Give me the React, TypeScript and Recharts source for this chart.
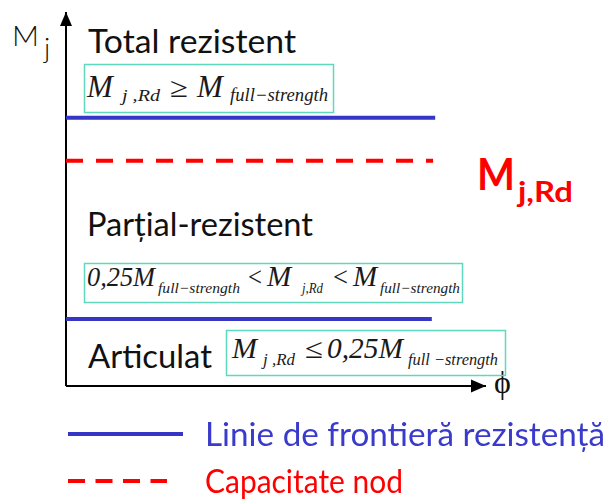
import React from 'react';
import { ComposedChart, Line, XAxis, YAxis, ReferenceDot, ReferenceLine, Legend, Customized } from 'recharts';

// Boundary values (axes 0..100)
const boundTopX = [0, 87.9];
const boundTopY = [71.7, 71.7];
const boundLowX = [0, 87.1];
const boundLowY = [17.9, 17.9];
const capX = [0, 87.4];
const capY = [60.2, 60.2];

const legendNames = ['Linie de frontieră rezistență', 'Capacitate nod'];
const zoneLabels = ['Total rezistent', 'Parțial-rezistent', 'Articulat'];

const toPts = (xs: number[], ys: number[]) => xs.map((x, i) => ({ x, y: ys[i] }));
const topData = toPts(boundTopX, boundTopY);
const lowData = toPts(boundLowX, boundLowY);
const capData = toPts(capX, capY);

const BLUE = '#3535c6';
const RED = '#ff0000';
const TEAL = '#5fd9bd';
const SANS = 'Lato, "Open Sans", sans-serif';
const SERIF = '"Liberation Serif", "DejaVu Serif", serif';

const MP = ({ x, y, size, w, italic = true, children }: any) => (
  <text x={x} y={y} fontSize={size} fontFamily={SERIF} fontStyle={italic ? 'italic' : 'normal'} fill="#1a1a1a"
    textLength={w} lengthAdjust={w ? 'spacingAndGlyphs' : undefined}>{children}</text>
);

const Annotations = () => (
  <g>
    {/* axis titles */}
    <text x={12} y={46} fontSize={27} fontFamily={SANS} fontWeight={300} fill="#111" textLength={27} lengthAdjust="spacingAndGlyphs">M</text>
    <text x={44} y={58} fontSize={28} fontFamily={SANS} fontWeight={300} fill="#111">j</text>
    <text x={494} y={393} fontSize={32} fontFamily={SERIF} fill="#111">ϕ</text>

    {/* zone labels */}
    <text x={88} y={53} fontSize={33} fontFamily={SANS} fill="#111" textLength={208} lengthAdjust="spacingAndGlyphs">{zoneLabels[0]}</text>
    <text x={87} y={236} fontSize={33} fontFamily={SANS} fill="#111" textLength={226} lengthAdjust="spacingAndGlyphs">{zoneLabels[1]}</text>
    <text x={88} y={368} fontSize={33} fontFamily={SANS} fill="#111" textLength={124} lengthAdjust="spacingAndGlyphs">{zoneLabels[2]}</text>

    {/* red capacity label */}
    <text x={477} y={190} fontSize={43} fontWeight="bold" fontFamily={SANS} fill={RED} textLength={38} lengthAdjust="spacingAndGlyphs">M</text>
    <text x={518} y={202} fontSize={28} fontWeight="bold" fontFamily={SANS} fill={RED} textLength={55} lengthAdjust="spacingAndGlyphs">j,Rd</text>

    {/* box 1 */}
    <rect x={84.5} y={64.5} width={249} height={48} fill="none" stroke={TEAL} strokeWidth={1.5} />
    <MP x={87} y={97} size={31}>M</MP>
    <MP x={122} y={101} size={16} w={38}>j ,Rd</MP>
    <MP x={170} y={97} size={28} w={18} italic={false}>≥</MP>
    <MP x={197} y={97} size={31}>M</MP>
    <MP x={230} y={101} size={18} w={98}>full−strength</MP>

    {/* box 2 */}
    <rect x={84.5} y={263.5} width={378} height={39} fill="none" stroke={TEAL} strokeWidth={1.5} />
    <MP x={87} y={286} size={28} w={68}>0,25M</MP>
    <MP x={158} y={293} size={15} w={82}>full−strength</MP>
    <MP x={248} y={286} size={27} w={14} italic={false}>&lt;</MP>
    <MP x={267} y={286} size={29}>M</MP>
    <MP x={302} y={293} size={15} w={21}>j,Rd</MP>
    <MP x={333} y={286} size={27} w={15} italic={false}>&lt;</MP>
    <MP x={353} y={286} size={29}>M</MP>
    <MP x={380} y={293} size={15} w={80}>full−strength</MP>

    {/* box 3 */}
    <rect x={226.5} y={330.5} width={279} height={45} fill="none" stroke={TEAL} strokeWidth={1.5} />
    <MP x={232} y={358} size={30}>M</MP>
    <MP x={263} y={365} size={16} w={32}>j ,Rd</MP>
    <MP x={305} y={358} size={28} w={18} italic={false}>≤</MP>
    <MP x={327} y={358} size={30} w={76}>0,25M</MP>
    <MP x={408} y={365} size={17} w={90}>full −strength</MP>
  </g>
);

const ArrowUp = (p: any) => (
  <path d={`M${p.cx},${p.cy} L${p.cx - 6},${p.cy + 14} L${p.cx + 6},${p.cy + 14} Z`} fill="#000" />
);
const ArrowRight = (p: any) => (
  <path d={`M${p.cx},${p.cy} L${p.cx - 15},${p.cy - 6.5} L${p.cx - 15},${p.cy + 6.5} Z`} fill="#000" />
);

const LegendContent = (props: any) => {
  const items = legendNames
    .map((n) => (props.payload || []).find((e: any) => e.value === n))
    .filter(Boolean);
  return (
    <svg width={611} height={90} style={{ display: 'block' }}>
      {items.map((e: any, i: number) => {
        const dashed = e.value === legendNames[1];
        const cy = i === 0 ? 24 : 71;
        return (
          <g key={e.value}>
            <line x1={68} x2={dashed ? 167 : 183} y1={cy} y2={cy} stroke={e.color} strokeWidth={4}
              strokeDasharray={dashed ? '17 10.5' : undefined} />
            <text x={205} y={cy + 12} fontSize={33} fontFamily={SANS} fill={dashed ? RED : '#3a3acc'}
              textLength={dashed ? 198 : 400} lengthAdjust="spacingAndGlyphs">{e.value}</text>
          </g>
        );
      })}
    </svg>
  );
};

export default function App() {
  return (
    <div style={{ position: 'fixed', left: 0, top: 0, width: 611, height: 499, background: '#fff' }}>
      <ComposedChart width={611} height={499} margin={{ top: 12, right: 125, bottom: 113, left: 66 }}>
        <XAxis type="number" dataKey="x" domain={[0, 100]} allowDataOverflow hide />
        <YAxis type="number" dataKey="y" domain={[0, 100]} allowDataOverflow hide />
        <ReferenceLine x={0} stroke="#000" strokeWidth={2} />
        <ReferenceLine y={0} stroke="#000" strokeWidth={2} />
        <Line data={topData} dataKey="y" name={legendNames[0]} stroke={BLUE} strokeWidth={4} dot={false}
          isAnimationActive={false} />
        <Line data={lowData} dataKey="y" name={legendNames[0]} stroke={BLUE} strokeWidth={4} dot={false}
          isAnimationActive={false} />
        <Line data={capData} dataKey="y" name={legendNames[1]} stroke={RED} strokeWidth={4} dot={false}
          strokeDasharray="17 13" isAnimationActive={false} />
        <ReferenceDot x={0} y={100} r={0} shape={ArrowUp} ifOverflow="visible" />
        <ReferenceDot x={100} y={0} r={0} shape={ArrowRight} ifOverflow="visible" />
        <Customized component={Annotations} />
        <Legend layout="vertical" align="center" verticalAlign="middle" content={LegendContent}
          wrapperStyle={{ position: 'absolute', top: 410, left: 0, width: 611, margin: 0 }} />
      </ComposedChart>
    </div>
  );
}
